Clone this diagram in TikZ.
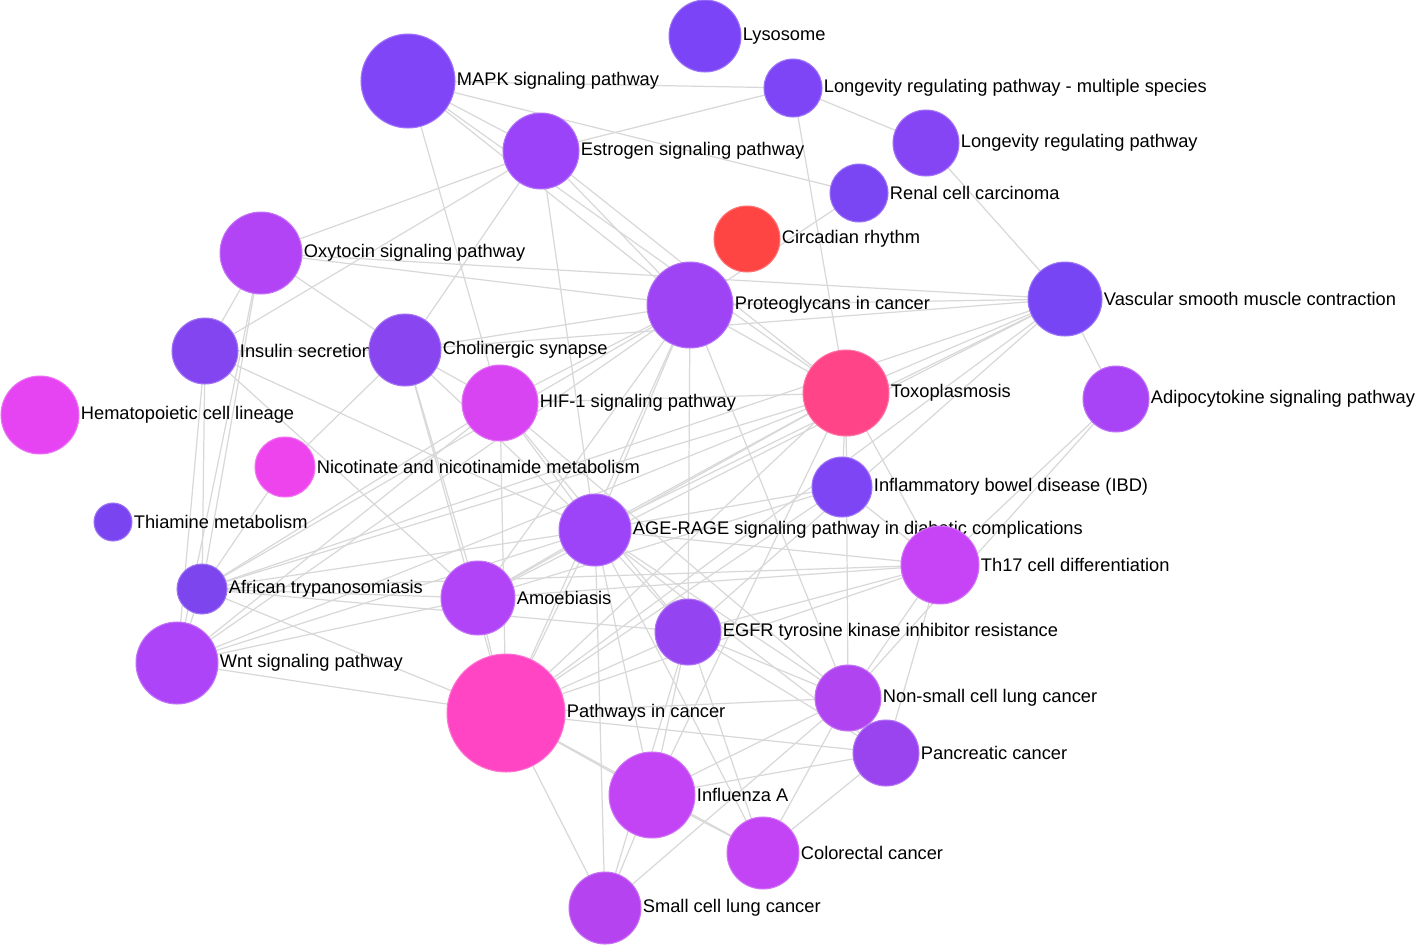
\documentclass[tikz,border=0pt]{standalone}
\usepackage{fontspec}
\setmainfont{Liberation Sans}
\usetikzlibrary{backgrounds}
\definecolor{cLys}{HTML}{7B44F6}
\definecolor{cMapk}{HTML}{8145F8}
\definecolor{cLmul}{HTML}{7E45F6}
\definecolor{cEstr}{HTML}{9B43F9}
\definecolor{cLreg}{HTML}{8545F5}
\definecolor{cRen}{HTML}{7A45F3}
\definecolor{cCirc}{HTML}{FF4444}
\definecolor{cOxy}{HTML}{B244F6}
\definecolor{cProt}{HTML}{9E44F4}
\definecolor{cVsmc}{HTML}{7745F4}
\definecolor{cIns}{HTML}{8345F0}
\definecolor{cChol}{HTML}{8945F0}
\definecolor{cHif}{HTML}{D844F2}
\definecolor{cToxo}{HTML}{FF4488}
\definecolor{cAdip}{HTML}{A844F5}
\definecolor{cHema}{HTML}{E644F2}
\definecolor{cNico}{HTML}{EE44EE}
\definecolor{cIbd}{HTML}{7E45F5}
\definecolor{cThia}{HTML}{7A45F0}
\definecolor{cAge}{HTML}{9E44F8}
\definecolor{cTh}{HTML}{C644F5}
\definecolor{cAfr}{HTML}{7C45EE}
\definecolor{cAmoe}{HTML}{B044F6}
\definecolor{cEgfr}{HTML}{9444F0}
\definecolor{cWnt}{HTML}{AE44F8}
\definecolor{cNsc}{HTML}{B044F0}
\definecolor{cPic}{HTML}{FF44C4}
\definecolor{cPanc}{HTML}{9A44F0}
\definecolor{cFlu}{HTML}{C244F4}
\definecolor{cCrc}{HTML}{C244F4}
\definecolor{cSclc}{HTML}{B544F0}
\definecolor{edgegray}{HTML}{D8D8D8}
\tikzset{
  pw/.style={circle, inner sep=0pt, draw=#1!75!white, line width=0.6pt, fill=#1},
  lbl/.style={font=\fontsize{10.4}{12}\selectfont, inner sep=0.6pt, text=black},
  edge/.style={draw=edgegray, line width=0.7pt}
}
\newcommand\pnode[6]{\node[pw=#5, minimum size=#4*0.04cm, label={[lbl, label distance=0pt]east:#6}] (#1) at (#2,#3) {};}
\begin{document}
\begin{tikzpicture}[x=0.02cm, y=-0.02cm]
\useasboundingbox (0,0) rectangle (1417,947);
\pnode{lys}{705}{36}{36}{cLys}{Lysosome}
\pnode{mapk}{408}{81}{47}{cMapk}{MAPK signaling pathway}
\pnode{lmulti}{793}{88}{29}{cLmul}{Longevity regulating pathway - multiple species}
\pnode{estr}{541}{151}{38}{cEstr}{Estrogen signaling pathway}
\pnode{lreg}{926}{143}{33}{cLreg}{Longevity regulating pathway}
\pnode{renal}{859}{193}{29}{cRen}{Renal cell carcinoma}
\pnode{circ}{747}{239}{33}{cCirc}{Circadian rhythm}
\pnode{oxy}{261}{253}{41}{cOxy}{Oxytocin signaling pathway}
\pnode{prot}{690}{305}{43}{cProt}{Proteoglycans in cancer}
\pnode{vsmc}{1065}{299}{37}{cVsmc}{Vascular smooth muscle contraction}
\pnode{ins}{205}{351}{33}{cIns}{Insulin secretion}
\pnode{chol}{405}{350}{36}{cChol}{Cholinergic synapse}
\pnode{hif}{500}{403}{38}{cHif}{HIF-1 signaling pathway}
\pnode{toxo}{846}{393}{43}{cToxo}{Toxoplasmosis}
\pnode{adipo}{1116}{399}{33}{cAdip}{Adipocytokine signaling pathway}
\pnode{hema}{40}{415}{39}{cHema}{Hematopoietic cell lineage}
\pnode{nico}{285}{467}{30}{cNico}{Nicotinate and nicotinamide metabolism}
\pnode{ibd}{842}{487}{30}{cIbd}{Inflammatory bowel disease (IBD)}
\pnode{thia}{113}{522}{19}{cThia}{Thiamine metabolism}
\pnode{age}{595}{530}{36}{cAge}{AGE-RAGE signaling pathway in diabetic complications}
\pnode{th17}{940}{565}{39}{cTh}{Th17 cell differentiation}
\pnode{afr}{202}{589}{25}{cAfr}{African trypanosomiasis}
\pnode{amoe}{478}{598}{37}{cAmoe}{Amoebiasis}
\pnode{egfr}{688}{632}{33}{cEgfr}{EGFR tyrosine kinase inhibitor resistance}
\pnode{wnt}{177}{663}{41}{cWnt}{Wnt signaling pathway}
\pnode{nsclc}{848}{698}{33}{cNsc}{Non-small cell lung cancer}
\pnode{pic}{506}{713}{59}{cPic}{Pathways in cancer}
\pnode{panc}{886}{753}{33}{cPanc}{Pancreatic cancer}
\pnode{flu}{652}{795}{43}{cFlu}{Influenza A}
\pnode{crc}{763}{853}{36}{cCrc}{Colorectal cancer}
\pnode{sclc}{605}{908}{36}{cSclc}{Small cell lung cancer}
\begin{scope}[on background layer]
\foreach \a/\b in {mapk/lmulti, mapk/renal, mapk/estr, mapk/prot, mapk/toxo, mapk/hif,
  lmulti/estr, lmulti/lreg, lmulti/toxo, lreg/vsmc, renal/prot,
  estr/ins, estr/chol, estr/oxy, estr/age, estr/prot, estr/toxo,
  oxy/ins, oxy/chol, oxy/prot, oxy/vsmc, oxy/afr, oxy/wnt,
  ins/chol, ins/afr, ins/wnt, ins/age, ins/amoe,
  chol/prot, chol/vsmc, chol/hif, chol/nico, chol/amoe, chol/pic, chol/age,
  nico/afr,
  hif/prot, hif/toxo, hif/age, hif/pic, hif/egfr, hif/nsclc, hif/wnt, hif/afr,
  prot/vsmc, prot/toxo, prot/age, prot/amoe, prot/pic, prot/egfr, prot/nsclc, prot/afr, prot/wnt,
  toxo/vsmc, toxo/ibd, toxo/th17, toxo/age, toxo/amoe, toxo/pic, toxo/afr, toxo/wnt, toxo/flu, toxo/nsclc,
  vsmc/adipo, vsmc/age, vsmc/amoe, vsmc/pic, vsmc/egfr, vsmc/afr,
  adipo/th17, adipo/nsclc,
  ibd/th17, ibd/age, ibd/pic, ibd/amoe,
  age/th17, age/amoe, age/egfr, age/pic, age/nsclc, age/panc, age/sclc, age/crc, age/flu, age/afr, age/wnt,
  th17/egfr, th17/pic, th17/amoe, th17/nsclc, th17/panc, th17/afr,
  afr/amoe, afr/pic, afr/wnt, afr/egfr,
  amoe/pic, amoe/wnt,
  egfr/nsclc, egfr/panc, egfr/pic, egfr/flu, egfr/crc, egfr/sclc,
  wnt/pic,
  nsclc/pic, nsclc/panc, nsclc/flu, nsclc/sclc, nsclc/crc,
  pic/flu, pic/panc, pic/sclc, pic/crc,
  panc/flu, panc/crc, flu/crc, flu/sclc}
  \draw[edge] (\a.center) -- (\b.center);
\end{scope}
\end{tikzpicture}
\end{document}
